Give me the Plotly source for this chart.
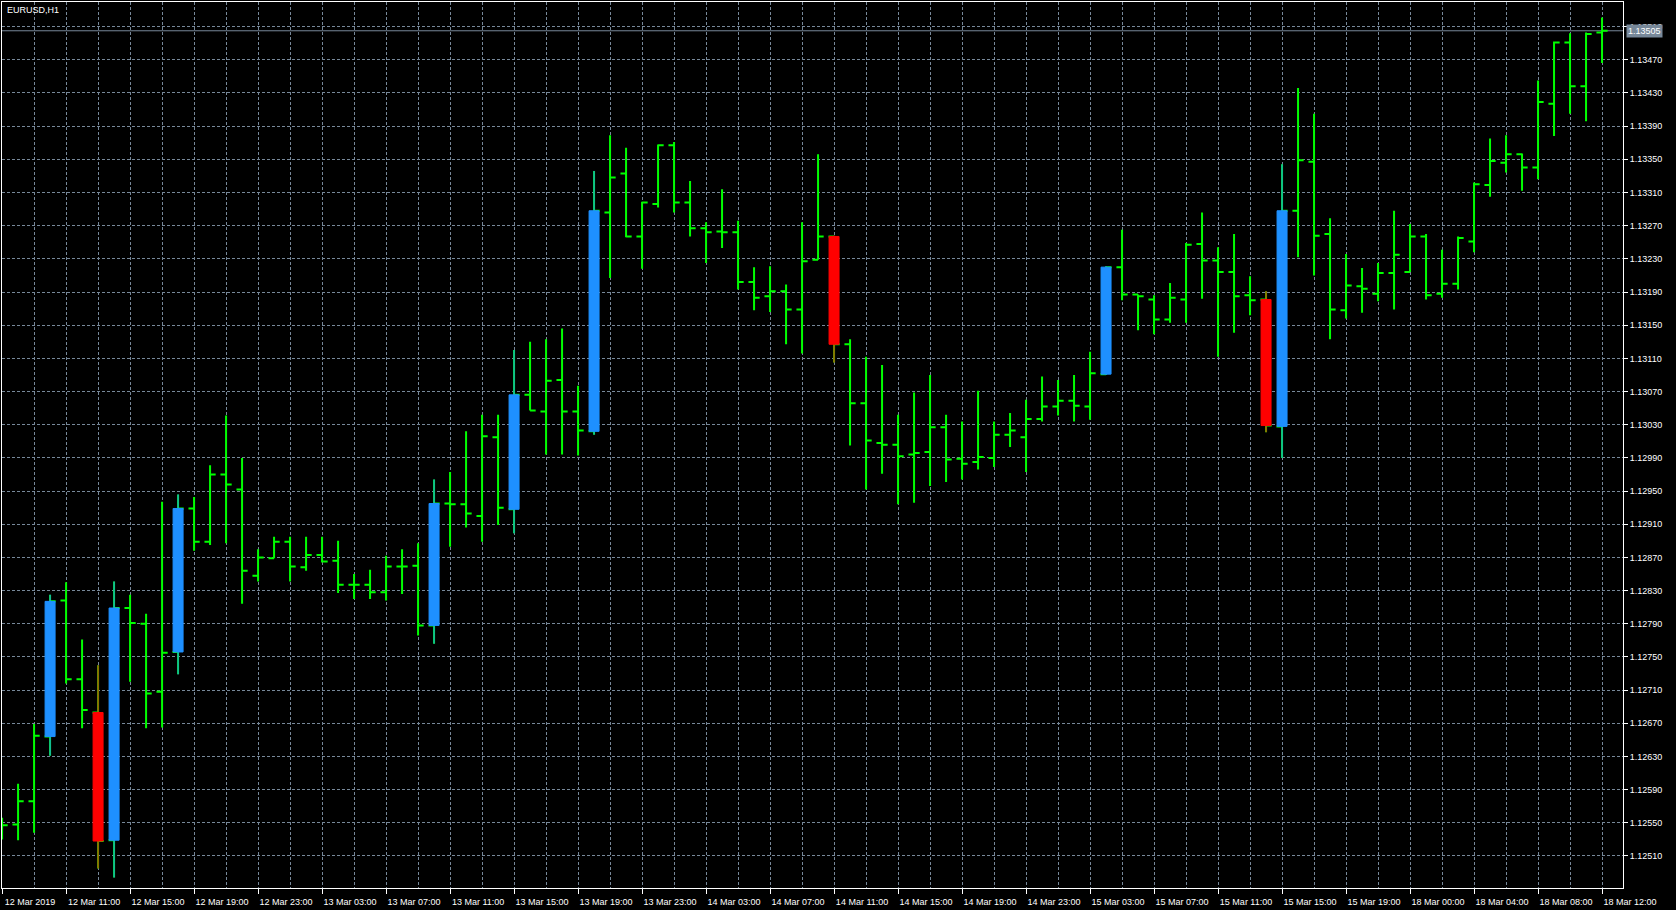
import plotly.graph_objects as go

symbol = "EURUSD,H1"
current_price = 1.13505

open_ = [1.12540, 1.12548, 1.12576, 1.12654, 1.12818, 1.12723, 1.12683, 1.12529, 1.12809, 1.12790,
         1.12708, 1.12756, 1.12929, 1.12889, 1.12970, 1.12952, 1.12848, 1.12869, 1.12889, 1.12858,
         1.12873, 1.12866, 1.12837, 1.12837, 1.12828, 1.12859, 1.12860, 1.12788, 1.12935, 1.12934,
         1.12920, 1.13015, 1.12928, 1.13066, 1.13046, 1.13084, 1.13046, 1.13022, 1.13286, 1.13333,
         1.13257, 1.13296, 1.13367, 1.13298, 1.13267, 1.13263, 1.13262, 1.13202, 1.13185, 1.13191,
         1.13169, 1.13229, 1.13257, 1.13127, 1.13056, 1.13008, 1.13006, 1.12994, 1.12997, 1.13027,
         1.12989, 1.12985, 1.12990, 1.13018, 1.13015, 1.13037, 1.13052, 1.13059, 1.13052, 1.13091,
         1.13220, 1.13187, 1.13181, 1.13157, 1.13181, 1.13248, 1.13228, 1.13214, 1.13186, 1.13181,
         1.13028, 1.13288, 1.13347, 1.13260, 1.13168, 1.13197, 1.13188, 1.13213, 1.13214, 1.13257,
         1.13188, 1.13200, 1.13251, 1.13319, 1.13346, 1.13356, 1.13340, 1.13417, 1.13491, 1.13438,
         1.13503]
high = [1.12556, 1.12597, 1.12669, 1.12825, 1.12840, 1.12771, 1.12740, 1.12841, 1.12825, 1.12802,
        1.12937, 1.12946, 1.12943, 1.12981, 1.13041, 1.12990, 1.12880, 1.12895, 1.12895, 1.12895,
        1.12895, 1.12890, 1.12850, 1.12855, 1.12872, 1.12880, 1.12887, 1.12964, 1.12973, 1.13022,
        1.13042, 1.13042, 1.13120, 1.13130, 1.13133, 1.13146, 1.13077, 1.13336, 1.13379, 1.13364,
        1.13299, 1.13368, 1.13371, 1.13324, 1.13274, 1.13314, 1.13276, 1.13220, 1.13221, 1.13199,
        1.13274, 1.13356, 1.13258, 1.13133, 1.13112, 1.13102, 1.13042, 1.13069, 1.13090, 1.13042,
        1.13034, 1.13071, 1.13034, 1.13044, 1.13060, 1.13088, 1.13084, 1.13090, 1.13118, 1.13221,
        1.13265, 1.13187, 1.13186, 1.13201, 1.13249, 1.13286, 1.13244, 1.13260, 1.13209, 1.13191,
        1.13344, 1.13436, 1.13405, 1.13279, 1.13236, 1.13219, 1.13225, 1.13288, 1.13272, 1.13260,
        1.13241, 1.13257, 1.13322, 1.13375, 1.13379, 1.13357, 1.13445, 1.13492, 1.13502, 1.13503,
        1.13521]
low = [1.12530, 1.12529, 1.12538, 1.12631, 1.12718, 1.12664, 1.12495, 1.12484, 1.12720, 1.12664,
       1.12665, 1.12729, 1.12878, 1.12885, 1.12887, 1.12814, 1.12841, 1.12869, 1.12841, 1.12854,
       1.12864, 1.12827, 1.12820, 1.12820, 1.12818, 1.12826, 1.12776, 1.12766, 1.12883, 1.12906,
       1.12889, 1.12909, 1.12899, 1.13047, 1.12994, 1.12994, 1.12993, 1.13018, 1.13207, 1.13256,
       1.13218, 1.13292, 1.13286, 1.13257, 1.13225, 1.13243, 1.13193, 1.13168, 1.13166, 1.13127,
       1.13116, 1.13229, 1.13105, 1.13005, 1.12952, 1.12971, 1.12934, 1.12936, 1.12956, 1.12961,
       1.12964, 1.12976, 1.12979, 1.13003, 1.12973, 1.13034, 1.13041, 1.13034, 1.13036, 1.13090,
       1.13180, 1.13144, 1.13139, 1.13153, 1.13153, 1.13182, 1.13112, 1.13141, 1.13162, 1.13021,
       1.12990, 1.13232, 1.13210, 1.13133, 1.13158, 1.13165, 1.13179, 1.13169, 1.13214, 1.13181,
       1.13183, 1.13193, 1.13238, 1.13305, 1.13334, 1.13312, 1.13326, 1.13378, 1.13405, 1.13396,
       1.13466]
close = [1.12547, 1.12576, 1.12655, 1.12817, 1.12723, 1.12686, 1.12528, 1.12809, 1.12791, 1.12706,
         1.12755, 1.12929, 1.12889, 1.12970, 1.12958, 1.12854, 1.12870, 1.12889, 1.12859, 1.12873,
         1.12865, 1.12837, 1.12837, 1.12828, 1.12859, 1.12859, 1.12788, 1.12935, 1.12934, 1.12923,
         1.13016, 1.12930, 1.13066, 1.13047, 1.13083, 1.13046, 1.13023, 1.13288, 1.13328, 1.13257,
         1.13298, 1.13367, 1.13298, 1.13267, 1.13262, 1.13262, 1.13202, 1.13183, 1.13191, 1.13169,
         1.13227, 1.13257, 1.13127, 1.13056, 1.13011, 1.13006, 1.12992, 1.12996, 1.13027, 1.12988,
         1.12983, 1.12991, 1.13018, 1.13023, 1.13037, 1.13052, 1.13059, 1.13053, 1.13092, 1.13220,
         1.13187, 1.13185, 1.13157, 1.13183, 1.13247, 1.13228, 1.13214, 1.13185, 1.13180, 1.13029,
         1.13288, 1.13349, 1.13258, 1.13169, 1.13198, 1.13194, 1.13213, 1.13235, 1.13257, 1.13186,
         1.13200, 1.13255, 1.13320, 1.13348, 1.13356, 1.13340, 1.13419, 1.13491, 1.13438, 1.13501,
         1.13505]

# bars highlighted by the indicator (drawn as coloured candles)
highlight_bars = [3, 6, 7, 11, 27, 32, 37, 52, 69, 79, 80]

x_tick_bars = [0, 4, 8, 12, 16, 20, 24, 28, 32, 36, 40, 44, 48, 52, 56, 60, 64, 68, 72, 76,
               80, 84, 88, 92, 96, 100]
x_tick_labels = ["12 Mar 2019", "12 Mar 11:00", "12 Mar 15:00", "12 Mar 19:00", "12 Mar 23:00",
                 "13 Mar 03:00", "13 Mar 07:00", "13 Mar 11:00", "13 Mar 15:00", "13 Mar 19:00",
                 "13 Mar 23:00", "14 Mar 03:00", "14 Mar 07:00", "14 Mar 11:00", "14 Mar 15:00",
                 "14 Mar 19:00", "14 Mar 23:00", "15 Mar 03:00", "15 Mar 07:00", "15 Mar 11:00",
                 "15 Mar 15:00", "15 Mar 19:00", "18 Mar 00:00", "18 Mar 04:00", "18 Mar 08:00",
                 "18 Mar 12:00"]
y_tick_labels = ["1.12510", "1.12550", "1.12590", "1.12630", "1.12670", "1.12710", "1.12750",
                 "1.12790", "1.12830", "1.12870", "1.12910", "1.12950", "1.12990", "1.13030",
                 "1.13070", "1.13110", "1.13150", "1.13190", "1.13230", "1.13270", "1.13310",
                 "1.13350", "1.13390", "1.13430", "1.13470", "1.13510"]

GREEN = "#00FF00"
BLUE = "#1E90FF"
RED = "#FF0000"
GRID = "#778899"
FONT = "Liberation Sans"

bar_index = list(range(len(close)))
x_range = [-0.005, 101.31]
y_range = [1.124714, 1.135397]
minor_grid = [b + 2 for b in x_tick_bars[:-1]]

fig = go.Figure()
fig.add_trace(go.Ohlc(
    x=bar_index, open=open_, high=high, low=low, close=close,
    increasing=dict(line=dict(color=GREEN, width=2)),
    decreasing=dict(line=dict(color=GREEN, width=2)),
    tickwidth=0.35, hoverinfo="skip", showlegend=False,
))
fig.add_trace(go.Candlestick(
    x=highlight_bars,
    open=[open_[i] for i in highlight_bars],
    high=[high[i] for i in highlight_bars],
    low=[low[i] for i in highlight_bars],
    close=[close[i] for i in highlight_bars],
    increasing=dict(line=dict(color=BLUE, width=1), fillcolor=BLUE),
    decreasing=dict(line=dict(color=RED, width=1), fillcolor=RED),
    whiskerwidth=0, hoverinfo="skip", showlegend=False,
    xaxis="x2", yaxis="y",
))

fig.update_layout(
    width=1676, height=910,
    margin=dict(l=2, r=53, t=2, b=22),
    paper_bgcolor="black", plot_bgcolor="black",
    showlegend=False,
    boxgap=0.375, boxgroupgap=0,
    font=dict(family=FONT, size=9, color="white"),
    xaxis=dict(
        range=x_range, rangeslider=dict(visible=False),
        tickmode="array", tickvals=x_tick_bars, ticktext=x_tick_labels,
        ticks="outside", ticklen=5, tickcolor="white", tickwidth=1,
        tickangle=0, ticklabelshift=28,
        tickfont=dict(family=FONT, size=9, color="white"),
        showgrid=True, gridcolor=GRID, gridwidth=1, griddash="3px,2px",
        minor=dict(tickvals=minor_grid, showgrid=True, gridcolor=GRID,
                   gridwidth=1, griddash="3px,2px", ticks=""),
        showline=True, linecolor="white", linewidth=1, mirror=True,
        zeroline=False, fixedrange=True,
    ),
    xaxis2=dict(
        range=x_range, overlaying="x", visible=False, showgrid=False,
        rangeslider=dict(visible=False), fixedrange=True,
    ),
    yaxis=dict(
        range=y_range, side="right",
        tickmode="array", tickvals=[float(v) for v in y_tick_labels], ticktext=y_tick_labels,
        ticks="outside", ticklen=4, tickcolor="white", tickwidth=1,
        tickfont=dict(family=FONT, size=9, color="white"),
        showgrid=True, gridcolor=GRID, gridwidth=1, griddash="3px,2px",
        showline=True, linecolor="white", linewidth=1, mirror=True,
        zeroline=False, fixedrange=True,
    ),
    shapes=[dict(type="line", xref="paper", x0=0, x1=1, yref="y",
                 y0=current_price, y1=current_price,
                 line=dict(color=GRID, width=1), layer="below")],
    annotations=[
        dict(xref="paper", x=0, xanchor="left", xshift=3,
             yref="paper", y=1, yanchor="top", yshift=-1,
             text=symbol, showarrow=False,
             font=dict(family=FONT, size=9, color="white")),
        dict(xref="paper", x=1, xanchor="left", xshift=3,
             yref="y", y=current_price, yanchor="middle",
             text=f"{current_price:.5f}", showarrow=False,
             bgcolor=GRID, borderpad=1,
             font=dict(family=FONT, size=9, color="white")),
    ],
)

fig.write_html(
    "out.html",
    config={"displayModeBar": False},
    post_script="document.body.style.margin='0';document.body.style.overflow='hidden';",
)
